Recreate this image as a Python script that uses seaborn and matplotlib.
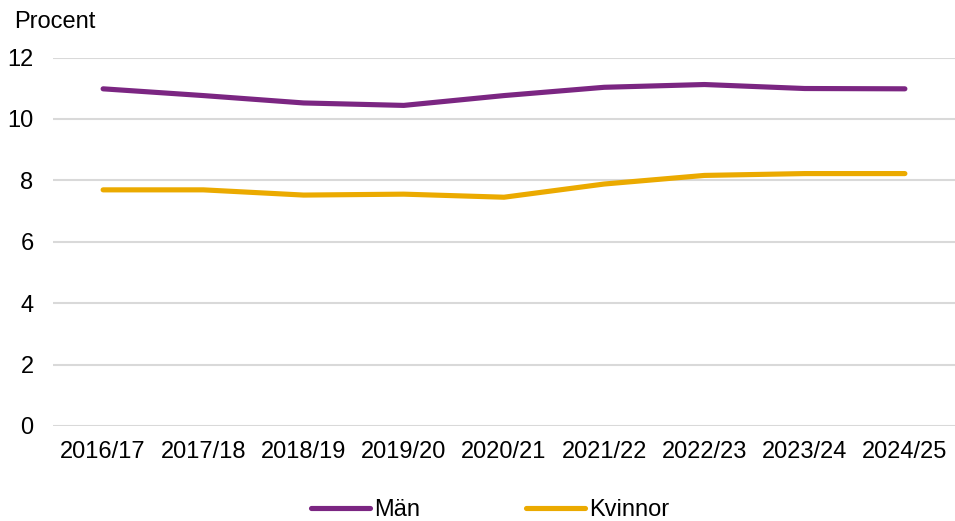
import matplotlib
matplotlib.use("Agg")
import matplotlib.pyplot as plt
import seaborn as sns
import pandas as pd

years = ["2016/17", "2017/18", "2018/19", "2019/20", "2020/21",
         "2021/22", "2022/23", "2023/24", "2024/25"]
man = [10.98, 10.76, 10.52, 10.44, 10.76, 11.03, 11.12, 10.99, 10.98]
kvinnor = [7.69, 7.69, 7.52, 7.55, 7.45, 7.88, 8.16, 8.22, 8.22]
series_names = ["Män", "Kvinnor"]
colors = ["#7B2682", "#EBAA00"]
yticks = [0, 2, 4, 6, 8, 10, 12]

df = pd.DataFrame({
    "År": years * 2,
    "Procent": man + kvinnor,
    "Kön": [series_names[0]] * len(years) + [series_names[1]] * len(years),
})

sns.set_theme(style="white")
plt.rcParams["font.family"] = ["Liberation Sans", "DejaVu Sans"]
plt.rcParams["text.color"] = "black"

fig = plt.figure(figsize=(9.55, 5.21), dpi=100)
ax = fig.add_axes([53 / 955, 1 - 426 / 521, 902 / 955, (426 - 57.5) / 521])

sns.lineplot(data=df, x="År", y="Procent", hue="Kön", palette=colors,
             linewidth=3.7, ax=ax, sort=False, legend=False)
for ln in ax.lines:
    ln.set_solid_capstyle("round")

ax.set_ylim(0, 12)
ax.set_xlim(-0.5, len(years) - 0.5)
ax.set_yticks(yticks)
ax.set_yticklabels([str(t) for t in yticks])
ax.grid(axis="y", color="#D9D9D9", linewidth=1.5)
ax.grid(axis="x", visible=False)
ax.set_axisbelow(True)
for s in ax.spines.values():
    s.set_visible(False)
ax.tick_params(axis="both", length=0, labelsize=17, colors="black")
ax.tick_params(axis="y", pad=14)
ax.tick_params(axis="x", pad=11)
ax.set_xlabel("")
ax.set_ylabel("")

fig.text(14 / 955, 1 - 22 / 521, "Procent", fontsize=17, va="center", ha="left", color="black")

from matplotlib.lines import Line2D
handles = [Line2D([0], [0], color=c, linewidth=3.7, solid_capstyle="round") for c in colors]
leg = fig.legend(handles, series_names, loc="center", bbox_to_anchor=(490 / 955, 1 - 510 / 521),
                 ncol=2, frameon=False, fontsize=17, handlelength=2.5, handletextpad=0.15,
                 columnspacing=4.5)
for t in leg.get_texts():
    t.set_color("black")

fig.savefig("out.png", dpi=100)
